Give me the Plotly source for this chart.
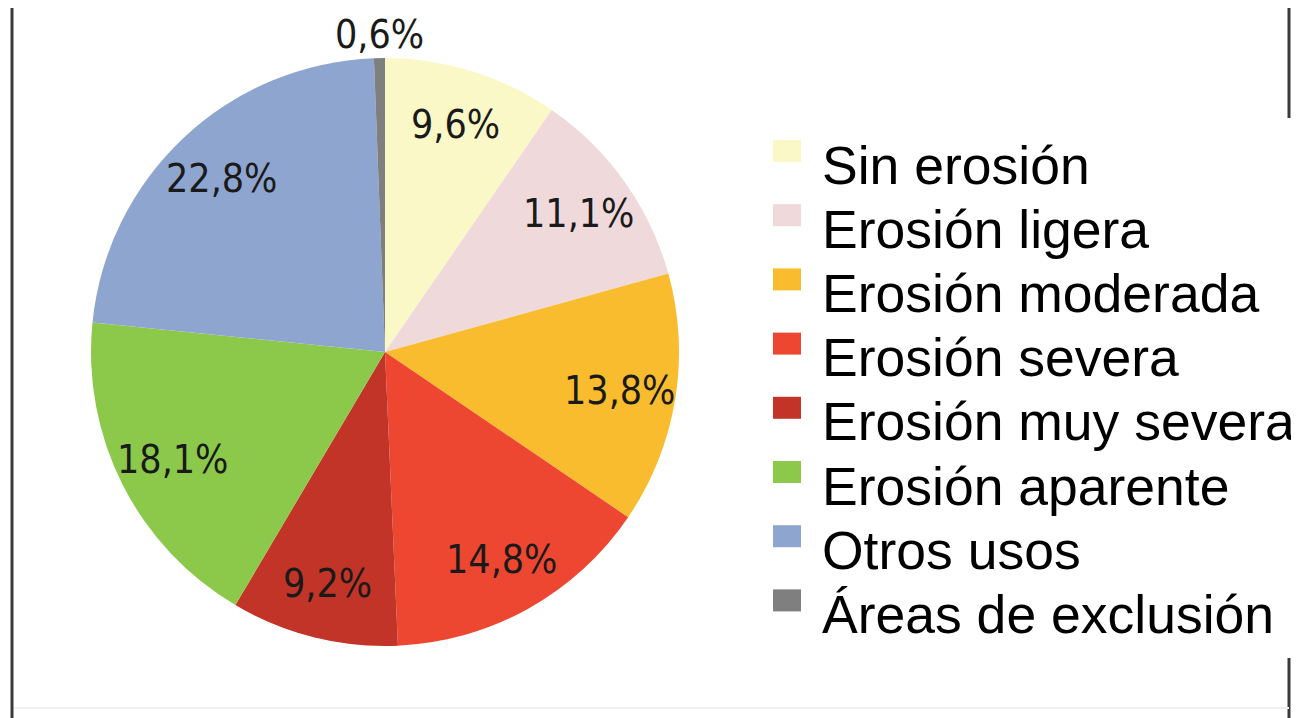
import math
import plotly.graph_objects as go

categories = ["Sin erosión", "Erosión ligera", "Erosión moderada", "Erosión severa",
              "Erosión muy severa", "Erosión aparente", "Otros usos", "Áreas de exclusión"]
values = [9.6, 11.1, 13.8, 14.8, 9.2, 18.1, 22.8, 0.6]
value_labels = ["9,6%", "11,1%", "13,8%", "14,8%", "9,2%", "18,1%", "22,8%", "0,6%"]
colors = ["#FBF8C7", "#EFD9DB", "#F8BC2E", "#EE4731", "#C13427", "#8CC94B", "#8EA6CF", "#7F7F7F"]

W, H = 1299, 718
OFF = 8  # page body margin offset


def xp(px):
    return (px - OFF) / W


def yp(py):
    return 1 - (py - OFF) / H


CX, CY, R = 385, 352, 294

fig = go.Figure()
fig.add_trace(go.Pie(
    labels=categories,
    values=values,
    textinfo="none",
    marker=dict(colors=colors, line=dict(width=0)),
    sort=False,
    direction="clockwise",
    rotation=0,
    showlegend=False,
    hoverinfo="label+percent",
    domain=dict(x=[xp(CX - R), xp(CX + R)], y=[yp(CY + R), yp(CY - R)]),
))

shapes = []
annotations = []

# slice value labels, placed along each slice's mid angle
total = sum(values)
cum = 0.0
for v, lab in zip(values, value_labels):
    mid = (cum + v / 2) / total * 2 * math.pi
    cum += v
    r = 0.81 * R if v > 2 else R + 24
    x = CX + r * math.sin(mid)
    y = CY - r * math.cos(mid)
    annotations.append(dict(text=lab, xref="paper", yref="paper", x=xp(x), y=yp(y),
                            xanchor="center", yanchor="middle", showarrow=False,
                            font=dict(family="DejaVu Sans Condensed, DejaVu Sans", size=39,
                                      color="#1a1a1a")))

# manual legend built from the category list
for i, (name, col) in enumerate(zip(categories, colors)):
    yc = 165 + 64.2 * i
    shapes.append(dict(type="rect", xref="paper", yref="paper",
                       x0=xp(773), x1=xp(801), y0=yp(yc - 3), y1=yp(yc - 25),
                       fillcolor=col, line=dict(width=0)))
    annotations.append(dict(text=name, xref="paper", yref="paper", x=xp(820), y=yp(yc),
                            xanchor="left", yanchor="middle", showarrow=False,
                            font=dict(family="Liberation Sans, Arial", size=53.5, color="#000000")))

# frame lines
line_style = dict(color="#3a3a3a", width=3)
RX = 1289
shapes.append(dict(type="line", xref="paper", yref="paper", x0=xp(12), x1=xp(12), y0=yp(730), y1=yp(6), line=line_style))
shapes.append(dict(type="line", xref="paper", yref="paper", x0=xp(RX), x1=xp(RX), y0=yp(118), y1=yp(0), line=line_style))
shapes.append(dict(type="line", xref="paper", yref="paper", x0=xp(RX), x1=xp(RX), y0=yp(730), y1=yp(658), line=line_style))
shapes.append(dict(type="line", xref="paper", yref="paper", x0=xp(1268), x1=xp(RX), y0=yp(1), y1=yp(1), line=dict(color="#bbbbbb", width=2)))
shapes.append(dict(type="line", xref="paper", yref="paper", x0=xp(14), x1=xp(RX), y0=yp(708), y1=yp(708), line=dict(color="#f0f0f0", width=2)))

fig.update_layout(
    width=W, height=H,
    margin=dict(l=0, r=0, t=0, b=0),
    paper_bgcolor="white", plot_bgcolor="white",
    shapes=shapes, annotations=annotations,
    showlegend=False,
)

fig.write_html("out.html")
